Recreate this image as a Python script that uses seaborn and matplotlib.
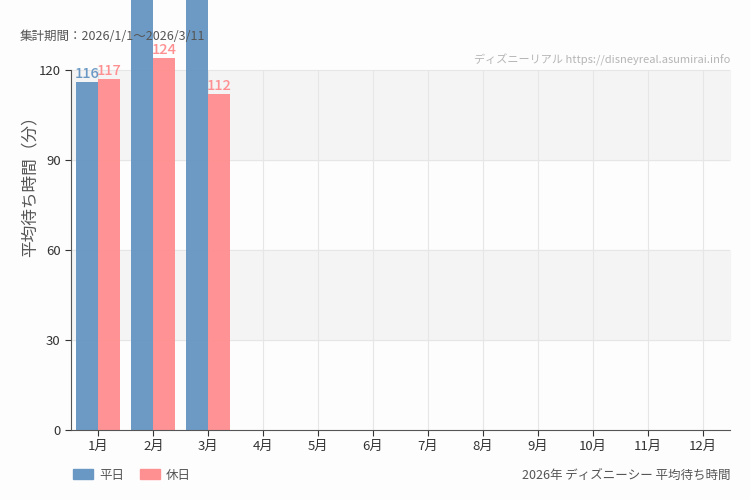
import seaborn as sns
import pandas as pd
import matplotlib.pyplot as plt
from matplotlib.patches import Patch
import numpy as np

months = [f"{m}月" for m in range(1, 13)]
# weekday / holiday average wait (minutes); Feb & Mar weekday bars run off the top of the chart
weekday = [116, 150, 152]
holiday = [117, 124, 112]

blue = "#6a98c4"
pink = "#ff9092"

df = pd.DataFrame({
    "month": months[:3] * 2,
    "wait": weekday + holiday,
    "type": ["平日"] * 3 + ["休日"] * 3,
})

sns.set_style("white")
plt.rcParams['font.family'] = ['Noto Sans CJK JP', 'DejaVu Sans']

fig = plt.figure(figsize=(7.5, 5), dpi=100, facecolor="#fdfdfd")
ax = fig.add_axes([71 / 750, 0.14, 659 / 750, 0.72])
ax.set_facecolor("#fdfdfd")

# alternating bands
ax.axhspan(90, 120, color="#f4f4f4", zorder=0)
ax.axhspan(30, 60, color="#f4f4f4", zorder=0)
for y in [30, 60, 90, 120]:
    ax.axhline(y, color="#e6e6e6", lw=0.8, zorder=0.5)

sns.barplot(data=df, x="month", y="wait", hue="type", order=months,
            hue_order=["平日", "休日"], palette=[blue, pink], width=0.8,
            saturation=1, linewidth=0, alpha=0.98, ax=ax, legend=False, zorder=2)

for bar in ax.patches:
    bar.set_clip_on(False)

# only labels that fall inside the figure are shown
for i, v in enumerate(weekday):
    if v < 140:
        ax.text(i - 0.2, v + 0.3, str(v), ha="center", va="bottom", color=blue,
                fontsize=10.5, fontweight="medium", fontstretch="condensed",
                clip_on=False)
for i, v in enumerate(holiday):
    if v < 140:
        ax.text(i + 0.2, v + 0.3, str(v), ha="center", va="bottom", color=pink,
                fontsize=10.5, fontweight="medium", fontstretch="condensed",
                clip_on=False)

ax.set_xlim(-0.5, 11.5)
ax.set_ylim(0, 120)
ax.set_yticks([0, 30, 60, 90, 120])
ax.xaxis.grid(True, color="#e6e6e6", lw=0.8)
ax.set_axisbelow(True)

for s in ["top", "right"]:
    ax.spines[s].set_visible(False)
ax.spines["left"].set_color("#555555")
ax.spines["bottom"].set_color("#555555")
ax.tick_params(axis="both", length=4, color="#333333", labelcolor="#333333",
               labelsize=9.5, bottom=True, left=True)
ax.set_xlabel("")
ax.set_ylabel("")

fig.text(30 / 750, 1 - 182 / 500, "平均待ち時間（分）", rotation=90,
         ha="center", va="center", fontsize=12, color="#555555")
fig.text(20 / 750, 1 - 37 / 500, "集計期間：2026/1/1～2026/3/11",
         ha="left", va="center", fontsize=9, color="#555555")
fig.text(730 / 750, 1 - 60 / 500, "ディズニーリアル https://disneyreal.asumirai.info",
         ha="right", va="center", fontsize=8, color="#b5b5b5")
fig.text(730 / 750, 1 - 475 / 500, "2026年 ディズニーシー 平均待ち時間",
         ha="right", va="center", fontsize=9, color="#555555")

handles = [Patch(color=blue, label="平日"), Patch(color=pink, label="休日")]
fig.legend(handles=handles, loc="center left", bbox_to_anchor=(62 / 750, 1 - 475 / 500),
           ncol=2, frameon=False, fontsize=9, handlelength=1.6, handleheight=0.9,
           columnspacing=1.2, handletextpad=0.5, labelcolor="#555555")

fig.savefig("out.png", dpi=100, facecolor=fig.get_facecolor())
